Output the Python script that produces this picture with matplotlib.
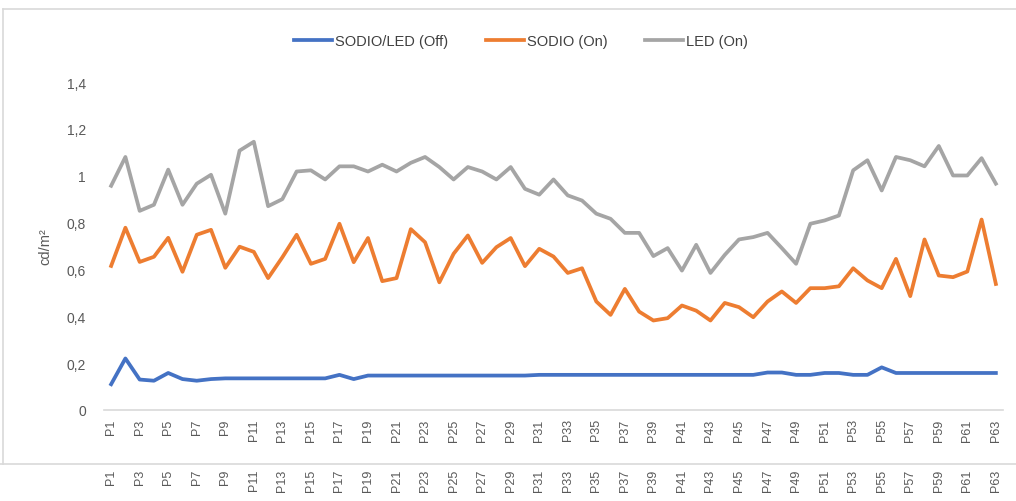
import numpy as np
import matplotlib
matplotlib.use('Agg')
import matplotlib.pyplot as plt
from matplotlib.lines import Line2D
from matplotlib.transforms import blended_transform_factory

plt.rcParams['font.family'] = ['Liberation Sans Narrow', 'Liberation Sans', 'DejaVu Sans']

# data
points = ['P' + str(i) for i in range(1, 64)]

off_vals = [0.11, 0.22, 0.13, 0.125, 0.158, 0.132, 0.125, 0.132, 0.135, 0.135,
            0.135, 0.135, 0.135, 0.135, 0.135, 0.135, 0.15, 0.132, 0.147, 0.147,
            0.147, 0.147, 0.147, 0.147, 0.147, 0.147, 0.147, 0.147, 0.147, 0.147,
            0.15, 0.15, 0.15, 0.15, 0.15, 0.15, 0.15, 0.15, 0.15, 0.15,
            0.15, 0.15, 0.15, 0.15, 0.15, 0.15, 0.16, 0.16, 0.15, 0.15,
            0.158, 0.158, 0.15, 0.15, 0.182, 0.158, 0.158, 0.158, 0.158, 0.158,
            0.158, 0.158, 0.158]

sodio_on = [0.615, 0.778, 0.632, 0.654, 0.735, 0.59, 0.748, 0.769, 0.607, 0.697,
            0.675, 0.563, 0.652, 0.748, 0.624, 0.645, 0.795, 0.631, 0.734, 0.55,
            0.563, 0.772, 0.716, 0.545, 0.667, 0.745, 0.628, 0.695, 0.734, 0.614,
            0.688, 0.655, 0.585, 0.605, 0.463, 0.406, 0.517, 0.42, 0.382, 0.392,
            0.446, 0.424, 0.382, 0.457, 0.439, 0.396, 0.463, 0.506, 0.457, 0.52,
            0.52, 0.528, 0.605, 0.553, 0.52, 0.645, 0.486, 0.728, 0.574, 0.567,
            0.591, 0.813, 0.538]

led_on = [0.957, 1.08, 0.85, 0.876, 1.026, 0.876, 0.966, 1.004, 0.838, 1.107,
          1.145, 0.87, 0.90, 1.018, 1.023, 0.984, 1.04, 1.04, 1.018, 1.047,
          1.018, 1.055, 1.08, 1.037, 0.984, 1.037, 1.018, 0.984, 1.037, 0.944,
          0.919, 0.984, 0.916, 0.894, 0.838, 0.816, 0.756, 0.756, 0.657, 0.691,
          0.595, 0.705, 0.585, 0.662, 0.728, 0.738, 0.756, 0.691, 0.624, 0.795,
          0.809, 0.83, 1.023, 1.066, 0.937, 1.08, 1.066, 1.04, 1.127, 1.001,
          1.001, 1.075, 0.966]

y_ticks = [0, 0.2, 0.4, 0.6, 0.8, 1.0, 1.2, 1.4]
y_labels = ['0', '0,2', '0,4', '0,6', '0,8', '1', '1,2', '1,4']

grey_txt = '#595959'
x = np.arange(1, 64)

fig = plt.figure(figsize=(10.16, 5.02), dpi=100)
ax = fig.add_axes([104 / 1016, 1 - 411 / 502, 899 / 1016, 328 / 502])

ax.plot(x, off_vals, color='#4472C4', lw=2.7, label='SODIO/LED (Off)', solid_joinstyle='round')
ax.plot(x, sodio_on, color='#ED7D31', lw=2.7, label='SODIO (On)', solid_joinstyle='round')
ax.plot(x, led_on, color='#A5A5A5', lw=2.7, label='LED (On)', solid_joinstyle='round')

ax.set_xlim(0.5, 63.5)
ax.set_ylim(0, 1.4)
ax.set_yticks(y_ticks)
ax.set_yticklabels(y_labels, fontsize=10, color=grey_txt)
ax.set_xticks(x[::2])
ax.set_xticklabels(points[::2], rotation=90, fontsize=9, color=grey_txt)
ax.tick_params(axis='both', length=0)
ax.tick_params(axis='y', pad=13)
ax.tick_params(axis='x', pad=6)
for s in ['top', 'right', 'left']:
    ax.spines[s].set_visible(False)
ax.spines['bottom'].set_color('#d9d9d9')
ax.spines['bottom'].set_linewidth(1.2)

ax.set_ylabel('cd/m²', fontsize=10.5, color=grey_txt, labelpad=10)

fig.legend(loc='center', bbox_to_anchor=(0.513, 1 - 42 / 502), ncol=3, frameon=False,
           fontsize=10.5, handlelength=2.6, handletextpad=0.2, columnspacing=2.6,
           labelcolor='#404040')

# chart border and the cut-off copy of the axis labels below it
fig.add_artist(Line2D([3 / 1016, 3 / 1016], [1 - 465 / 502, 1 - 10 / 502],
                      transform=fig.transFigure, color='#d9d9d9', lw=1.2))
fig.add_artist(Line2D([3 / 1016, 1], [1 - 10 / 502, 1 - 10 / 502],
                      transform=fig.transFigure, color='#d9d9d9', lw=1.2))
fig.add_artist(Line2D([0, 1], [1 - 465 / 502, 1 - 465 / 502],
                      transform=fig.transFigure, color='#d9d9d9', lw=1.2))

trans = blended_transform_factory(ax.transData, fig.transFigure)
for xi, lab in zip(x[::2], points[::2]):
    fig.text(xi, 1 - 470 / 502, lab, transform=trans, rotation=90, ha='center',
             va='top', fontsize=9, color=grey_txt)

fig.savefig('out.png', dpi=100)
